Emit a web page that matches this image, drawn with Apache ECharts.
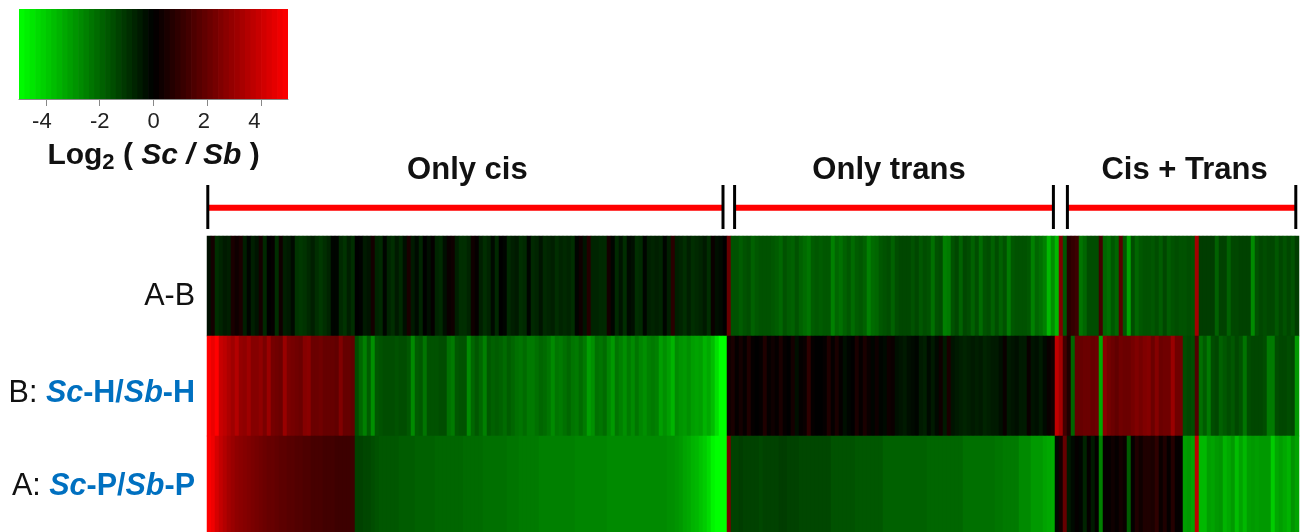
<!DOCTYPE html>
<html><head><meta charset="utf-8">
<style>html,body{margin:0;padding:0;background:#fff}#c{width:1306px;height:532px}</style>
<script src="https://cdn.jsdelivr.net/npm/echarts@6/dist/echarts.min.js"></script>
</head><body><div id="c"></div>
<script>
const rowLabels = ['A-B', 'B: Sc-H/Sb-H', 'A: Sc-P/Sb-P'];
const legendTicks = [-4, -2, 0, 2, 4];
const legendLabelAnchors = [-4.15, -2, 0, 1.87, 3.75];
const legendSteps = [
-4.9,-4.7,-4.5,-4.3,-4.1,-3.9,-3.7,-3.5,-3.3,-3.1,
-2.9,-2.7,-2.5,-2.3,-2.1,-1.9,-1.7,-1.5,-1.3,-1.1,
-.9,-.7,-.5,-.3,-.1,.1,.3,.5,.7,.9,
1.1,1.3,1.5,1.7,1.9,2.1,2.3,2.5,2.7,2.9,
3.1,3.3,3.5,3.7,3.9,4.1,4.3,4.5,4.7,4.9];

// Only cis, first block (37 columns)
const abCisA = [
-.3,.4,-.9,-.7,-.5,-.6,.5,.3,.5,-.6,
-.1,-.6,-.4,.4,-.8,0,.1,-.9,.3,-.6,
-.5,-.2,-1,-1.1,-1,-.8,-.6,-.9,-1.1,-.9,
-.7,-.1,-.1,-.8,-1,-.6,-.9];
const bCisA = [
5,4.6,5,3.9,3.7,3.4,3.1,3.5,2.9,2.8,
3.1,2.6,2.6,2.8,2.4,3,2.3,2.2,2.1,3,
2.4,2.3,2.2,2.1,2.6,2.7,2.1,2.1,2.2,2,
2,2,1.9,2.5,2,2,1.9];
const aCisA = [
5,4.7,4.2,3.8,3.5,3.2,3,2.8,2.7,2.6,
2.5,2.4,2.3,2.2,2.1,2,2,1.9,1.8,1.8,
1.7,1.7,1.6,1.6,1.5,1.5,1.4,1.4,1.4,1.3,
1.3,1.3,1.2,1.2,1.2,1.2,1.2];

// Only cis, second block (93 columns)
const abCisB = [
0,-.05,-.5,-.4,.4,-.7,-.8,-.1,-.7,-.9,
-.5,-.8,-.3,.5,-.5,-.2,-.7,0,-.3,.1,
-.7,-.8,-.3,.2,.3,-.6,-.9,-.9,-.7,.3,
.1,-.6,-.9,-.7,-.2,-.8,0,-.1,-.8,-.6,
-.5,-.9,-.8,-.1,-.8,-.7,-.4,-.8,-.7,-.6,
-.9,-.7,-.8,-.7,-.9,-.1,.3,-.4,.7,-.7,
-.7,-.8,-.8,.4,-.1,-.8,-.4,-.9,-.2,-.3,
-.9,-.8,-.1,-.6,-.7,-.6,-.7,-.1,-.6,.8,
-.6,-.7,-.9,-.6,-.9,-.8,-.7,-.5,-.9,.2,
-.3,-.2,0];
const bCisB = [
-1.5,-2,-2.5,-1.8,-2.8,-1.7,-1.6,-1.5,-1.5,-1.5,
-1.6,-1.5,-1.5,-1.7,-2.7,-1.8,-1.7,-2.3,-1.6,-1.6,
-1.6,-1.5,-1.5,-2.2,-2.4,-1.7,-1.6,-1.6,-2.7,-2,
-1.7,-2,-2.5,-1.7,-1.9,-1.8,-1.9,-2.1,-1.8,-2,
-2.2,-2.3,-2.1,-2.4,-2.4,-2.2,-2,-2.1,-2.3,-2.7,
-2.3,-2.4,-2.2,-2,-2.3,-2.4,-2.1,-2.4,-3.1,-2.8,
-2.2,-2.3,-2.1,-2.6,-3,-2.3,-2.5,-2.8,-2.4,-2.7,
-2.3,-2.6,-2.8,-2.5,-2.4,-2.5,-3.1,-2.8,-3.1,-3.5,
-2.7,-2.9,-3,-2.8,-3.1,-3.2,-3.1,-3.5,-3.3,-3.7,
-4.4,-5,-5];
const aCisB = [
-1.3,-1.3,-1.4,-1.4,-1.5,-1.6,-1.7,-1.7,-1.7,-1.7,
-1.7,-1.8,-1.8,-1.8,-1.8,-1.9,-1.9,-1.9,-1.9,-1.9,
-2,-2,-2,-2,-2,-2,-2,-2.1,-2.1,-2.1,
-2.1,-2.1,-2.2,-2.2,-2.2,-2.2,-2.2,-2.2,-2.3,-2.3,
-2.3,-2.4,-2.4,-2.4,-2.4,-2.4,-2.5,-2.5,-2.5,-2.5,
-2.5,-2.5,-2.5,-2.5,-2.5,-2.6,-2.6,-2.6,-2.6,-2.6,
-2.6,-2.6,-2.6,-2.7,-2.7,-2.7,-2.7,-2.7,-2.7,-2.7,
-2.7,-2.7,-2.7,-2.7,-2.7,-2.7,-2.7,-2.7,-2.8,-2.8,
-2.9,-3,-3.2,-3.3,-3.5,-3.6,-3.8,-4,-4.3,-4.8,
-5,-5,-5];

// Single divider column
const abGap = [2];
const bGap = [.3];
const aGap = [2.4];

// Only trans (81 columns)
const abTrans = [
-1.6,-1.6,-1.8,-1.6,-1.5,-1.9,-1.7,-1.6,-1.6,-1.6,
-1.7,-1.8,-2,-1.6,-1.8,-1.9,-1.6,-1.9,-2.1,-2.3,
-1.8,-1.7,-1.8,-1.7,-1.7,-2.5,-2,-2.2,-1.9,-1.7,
-2.1,-1.8,-1.7,-1.9,-2.5,-2.1,-2,-1.7,-1.6,-1.5,
-1.9,-1.5,-1.4,-1.4,-1.4,-1.6,-1.4,-1.7,-1.5,-1.6,
-2.2,-1.6,-1.5,-2.5,-2.4,-1.6,-1.4,-1.9,-1.4,-1.5,
-1.9,-1.5,-2.1,-1.6,-1.5,-1.9,-1.5,-1.9,-1.6,-2.4,
-1.7,-1.6,-1.6,-1.6,-1.7,-2.5,-2,-2.2,-2.5,-3.6,
-2.8];
const bTrans = [
.5,.1,.4,.1,.6,.1,0,.1,.6,.1,
.3,.1,.5,.1,0,.4,-.3,.1,.2,.9,
.1,0,0,.1,.6,.1,.5,.1,-.3,-.1,
0,.5,.1,.5,.2,-.1,.3,-.1,-.2,.3,
.2,-.3,-.4,-.5,-.3,-.2,-.1,-.5,-.6,-.2,
-.5,-.2,.3,-.5,.5,-.4,-.5,-.6,-.7,-.6,
-.5,-.6,-.5,-.7,-.6,-.5,-.5,-.3,.2,-.5,
-.4,-.3,-.5,-.5,.2,-.4,-.3,-.5,-.2,.2,
.4];
const aTrans = [
-1.3,-1.3,-1.2,-1.3,-1.3,-1.3,-1.3,-1.4,-1.3,-1.3,
-1.3,-1.3,-1.2,-1.2,-1.3,-1.3,-1.3,-1.4,-1.4,-1.4,
-1.4,-1.4,-1.4,-1.4,-1.4,-1.6,-1.6,-1.6,-1.6,-1.6,
-1.6,-1.7,-1.7,-1.7,-1.7,-1.7,-1.7,-1.7,-1.9,-1.9,
-1.9,-1.9,-1.9,-1.9,-1.9,-1.9,-1.9,-1.9,-1.9,-2,
-2,-2,-2,-2,-2,-2,-2,-2,-2.2,-2.2,
-2.2,-2.2,-2.2,-2.2,-2.2,-2.2,-2.3,-2.3,-2.4,-2.4,
-2.4,-2.4,-2.7,-2.7,-2.7,-3,-3,-3,-3.2,-3.3,
-3.4];

// Cis + Trans (61 columns)
const abBoth = [
-3.6,2.5,-1.7,.8,1,1.2,-2.3,-2,-1.5,-1.5,
-1.5,1.3,-2,-2.2,-1.7,-2,1.7,-1.7,-3.2,-1.5,
-2,-1.7,-1.6,-1.6,-1.7,-1.5,-1.8,-1.4,-1.8,-1.6,
-1.5,-1.6,-1.6,-1.5,-1.6,3.2,-1.2,-1.2,-1.2,-1.2,
-1.9,-1.3,-1.3,-1.9,-1.4,-1.4,-1.3,-1.3,-1.3,-2.7,
-1.6,-1.4,-1.5,-1.4,-1.4,-1.7,-1.4,-1.6,-1.4,-1.6,
-1.2];
const bBoth = [
3.8,3.2,1.3,.6,-2,2,2,2.1,2.1,2,
2.1,-3.3,2.7,2.3,2.1,1.9,2.2,2.1,2.1,2.3,
2.5,2.3,2.5,2.6,2.1,2.6,2.1,2.2,2.2,3,
2.2,2.2,-1.5,-1.4,-1.5,1.6,-2.2,-1.8,-2.4,-1.5,
-1.4,-1.9,-1.7,-1.5,-1.7,-1.4,-1.6,-2.3,-1.5,-1.4,
-1.4,-1.4,-1.5,-2.4,-2.4,-1.5,-1.4,-1.4,-1.5,-1.4,
-3];
const aBoth = [
-.2,.4,2,-.5,-.2,.1,-.1,-.7,.1,-.5,
.1,-2.5,.1,.1,.3,.1,.4,.2,-1.8,.1,
.6,.3,.6,.6,.5,.9,.2,.6,.1,.7,
.1,.1,-3.1,-3,-3.2,3.7,-3.6,-3.6,-3.1,-3.2,
-3,-2.9,-3.5,-3.3,-3,-3.7,-3.2,-3.6,-3.1,-3,
-3.1,-3,-3,-3,-4,-3.3,-3.1,-3.3,-3.5,-2.9,
-3.2];

// Annotation bar above the heatmap, in heatmap column units
const sectionNames = ['Only cis', 'Only trans', 'Cis + Trans'];
const sectionCentres = [65.1, 170.5, 244.4];
const sectionSpans = [[0.2, 129], [131.9, 211.6], [215.1, 272.2]];

const rows = [
  [...abCisA, ...abCisB, ...abGap, ...abTrans, ...abBoth],
  [...bCisA, ...bCisB, ...bGap, ...bTrans, ...bBoth],
  [...aCisA, ...aCisB, ...aGap, ...aTrans, ...aBoth]
];
rows.forEach(r => { if (r.length !== 273) throw new Error('row length ' + r.length); });
const columns = rows[0].map((_, i) => String(i));
const cells = [];
rows.forEach((r, y) => r.forEach((v, x) => cells.push([x, y, v])));

const redLine = [], blackTicks = [];
sectionSpans.forEach(([a, b]) => {
  redLine.push([a, 57.7], [b, 57.7], [null, null]);
  blackTicks.push([a, 35], [a, 79], [null, null], [b, 35], [b, 79], [null, null]);
});

const ff = '"Liberation Sans", Arial, sans-serif';
const blue = '#0070c0';
const fs = 30.5;
const base = {fontFamily: ff, fontSize: fs, color: '#111'};
const bold = {fontFamily: ff, fontSize: fs, color: blue, fontWeight: 'bold'};
const ital = {fontFamily: ff, fontSize: fs, color: blue, fontWeight: 'bold', fontStyle: 'italic'};
const rowRich = {
  k1: {...base, padding: [21, 0, 0, 0]},
  k2: {...base, padding: [15, 0, 0, 0]},
  b2: {...bold, padding: [15, 0, 0, 0]},
  i2: {...ital, padding: [15, 0, 0, 0]},
  k3: {...base, padding: [2, 0, 0, 0]},
  b3: {...bold, padding: [2, 0, 0, 0]},
  i3: {...ital, padding: [2, 0, 0, 0]}
};
function rowFormatter(v, i) {
  if (v === rowLabels[0]) return '{k1|A-B}';
  const n = v === rowLabels[1] ? 2 : 3;
  const m = v.match(/^(.: )(Sc)(-.\/)(Sb)(-.)$/);
  return `{k${n}|${m[1]}}{i${n}|${m[2]}}{b${n}|${m[3]}}{i${n}|${m[4]}}{b${n}|${m[5]}}`;
}

const chart = echarts.init(document.getElementById('c'), null, {renderer: 'canvas'});
chart.setOption({
  animation: false,
  backgroundColor: '#fff',
  grid: [
    {left: 207, width: 1092, top: 236, height: 300, outerBoundsMode: 'none'},
    {left: 19, width: 269, top: 9, height: 90, outerBoundsMode: 'none'},
    {left: 207, width: 1092, top: 150, height: 80, outerBoundsMode: 'none'}
  ],
  xAxis: [
    {type: 'category', gridIndex: 0, data: columns, show: false},
    {type: 'value', gridIndex: 1, min: -5, max: 5, position: 'bottom',
      axisLine: {show: true, onZero: false, lineStyle: {color: '#888', width: 1}},
      axisTick: {show: true, length: 7, lineStyle: {color: '#888', width: 1}, customValues: legendTicks},
      axisLabel: {show: true, customValues: legendLabelAnchors, margin: 12, fontFamily: ff, fontSize: 22, color: '#222',
        hideOverlap: false, formatter: v => String(Math.round(v / 2) * 2)},
      splitLine: {show: false},
      name: '{b|Log}{s|2}{b| ( }{i|Sc / Sb}{b| )}',
      nameLocation: 'middle', nameGap: 39,
      nameTextStyle: {rich: {
        b: {fontFamily: ff, fontSize: 30, fontWeight: 'bold', color: '#111'},
        i: {fontFamily: ff, fontSize: 30, fontWeight: 'bold', fontStyle: 'italic', color: '#111'},
        s: {fontFamily: ff, fontSize: 22, fontWeight: 'bold', color: '#111', padding: [14, 0, 0, 0]}
      }}},
    {type: 'value', gridIndex: 2, min: 0, max: 273, show: false}
  ],
  yAxis: [
    {type: 'category', gridIndex: 0, inverse: true, data: rowLabels,
      axisLine: {show: false}, axisTick: {show: false},
      axisLabel: {margin: 12, formatter: rowFormatter, rich: rowRich, align: 'right'}},
    {type: 'value', gridIndex: 1, min: 0, max: 1, show: false},
    {type: 'value', gridIndex: 2, min: 0, max: 80, inverse: true, show: false}
  ],
  visualMap: {
    type: 'continuous', seriesIndex: [0, 1], dimension: 2, min: -5, max: 5, show: false,
    inRange: {color: ['#00ff00', '#000000', '#ff0000']}
  },
  series: [
    {type: 'heatmap', xAxisIndex: 0, yAxisIndex: 0, data: cells, silent: true,
      progressive: 0, itemStyle: {borderWidth: 0}, emphasis: {disabled: true}},
    {type: 'custom', xAxisIndex: 1, yAxisIndex: 1, silent: true, clip: true,
      data: legendSteps.map(v => [v, 0, v]),
      encode: {x: 0, y: 1},
      renderItem(params, api) {
        const v = api.value(0);
        const a = api.coord([v - 0.1, 1]);
        const b = api.coord([v + 0.1, 0]);
        return {type: 'rect',
          shape: {x: a[0], y: a[1], width: b[0] - a[0] + 0.7, height: b[1] - a[1]},
          style: {fill: api.visual('color')}};
      }},
    {type: 'line', xAxisIndex: 2, yAxisIndex: 2, data: redLine, connectNulls: false, symbol: 'none', silent: true,
      lineStyle: {color: '#ff0000', width: 6, cap: 'butt'}},
    {type: 'line', xAxisIndex: 2, yAxisIndex: 2, data: blackTicks, connectNulls: false, symbol: 'none', silent: true,
      lineStyle: {color: '#000', width: 3, cap: 'butt'}},
    {type: 'scatter', xAxisIndex: 2, yAxisIndex: 2, silent: true, symbolSize: 1,
      itemStyle: {color: 'rgba(0,0,0,0)', opacity: 1},
      data: sectionNames.map((n, i) => ({name: n, value: [sectionCentres[i], 20]})),
      label: {show: true, position: 'inside', formatter: p => p.name, fontFamily: ff, fontSize: 31, fontWeight: 'bold', color: '#111'}}
  ]
});
</script></body></html>
